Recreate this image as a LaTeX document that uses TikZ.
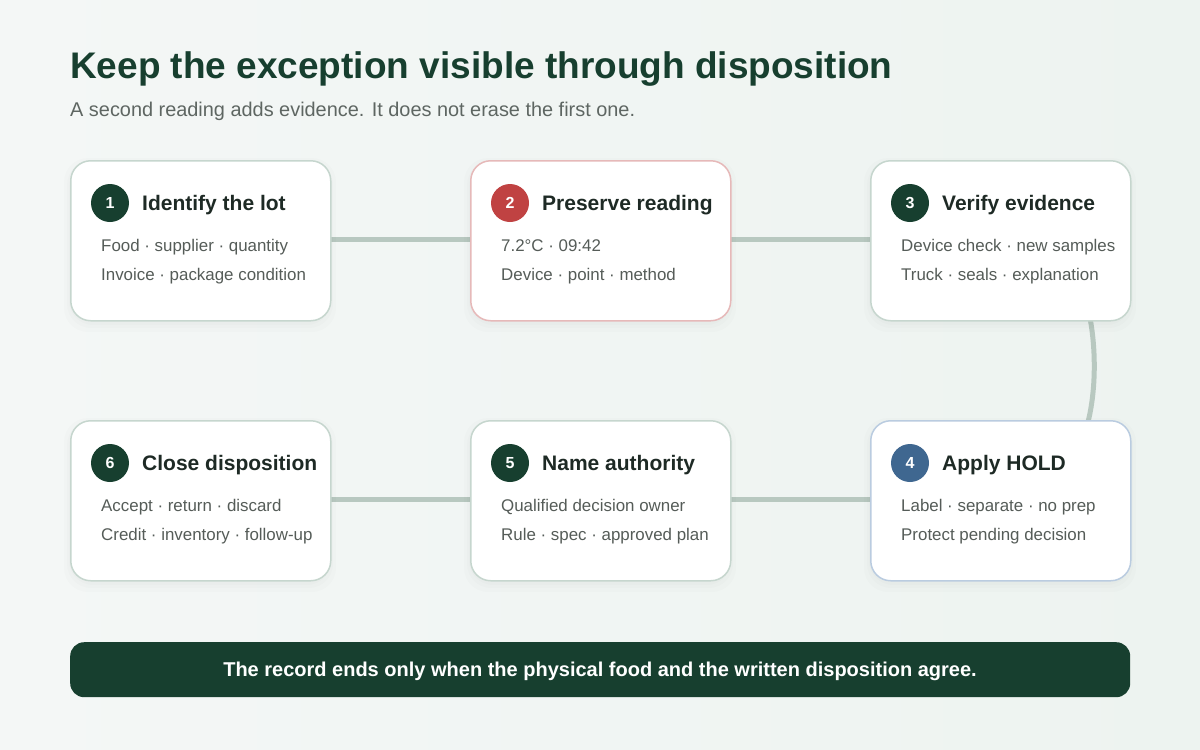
\documentclass[tikz,border=0pt]{standalone}
\usepackage{fontspec}
\setmainfont{Liberation Sans}
\definecolor{dkgreen}{HTML}{173F2F}
\definecolor{redc}{HTML}{C04242}
\definecolor{bluec}{HTML}{3F6790}
\definecolor{bordg}{HTML}{C6D6CE}
\definecolor{bordr}{HTML}{E6B9B9}
\definecolor{bordb}{HTML}{BACCE0}
\definecolor{conn}{HTML}{B8C8C0}
\definecolor{bodyt}{HTML}{555C58}
\definecolor{headt}{HTML}{1E2A25}
\definecolor{subt}{HTML}{5E6662}
\definecolor{bgA}{HTML}{F4F7F6}
\definecolor{bgB}{HTML}{EDF3F0}
\tikzset{
  x=1pt,y=-1pt,
  card/.style={draw=bordg, line width=1.5pt, fill=white, rounded corners=20pt, minimum width=260pt, minimum height=160pt, inner sep=0pt},
  numdot/.style={circle, fill=dkgreen, minimum size=38pt, inner sep=0pt, text=white, font=\fontsize{16}{18}\selectfont\bfseries},
  cardtitle/.style={anchor=base west, inner sep=0pt, text=headt, font=\fontsize{21}{24}\selectfont\bfseries},
  cardbody/.style={anchor=base west, inner sep=0pt, text=bodyt, font=\fontsize{16.9}{19}\selectfont},
  link/.style={draw=conn, line width=5pt},
  softshadow/.style={fill=black, opacity=0.012, rounded corners=24pt},
}
\newcommand{\makecard}[8]{%
  % #1 name, #2 x left, #3 y top, #4 border colour, #5 dot colour, #6 number, #7 title, #8 body
  \fill[softshadow] (#2-6,#3-2) rectangle (#2+266,#3+172);
  \fill[softshadow] (#2-3,#3+1) rectangle (#2+263,#3+168);
  \fill[softshadow] (#2-1,#3+3) rectangle (#2+261,#3+165);
  \node[card, draw=#4, anchor=north west] (#1) at (#2,#3) {};
  \node[numdot, fill=#5] (#1n) at (#2+40,#3+43) {#6};
  \node[cardtitle] (#1t) at (#2+72,#3+50) {#7};
  #8
}
\begin{document}
\begin{tikzpicture}
\useasboundingbox (0,0) rectangle (1200,750);
\shade[left color=bgA, right color=bgB] (0,0) rectangle (1200,750);

\node[anchor=base west, inner sep=0pt, text=dkgreen, font=\fontsize{37}{40}\selectfont\bfseries] (title) at (70,78) {Keep the exception visible through disposition};
\node[anchor=base west, inner sep=0pt, text=subt, font=\fontsize{19.9}{22}\selectfont] (subtitle) at (70,116) {A second reading adds evidence. It does not erase the first one.};

% connectors (drawn first, behind cards)
\coordinate (c12a) at (330,239); \coordinate (c12b) at (470,239);
\coordinate (c23a) at (730,239); \coordinate (c23b) at (870,239);
\coordinate (c56a) at (330,499); \coordinate (c56b) at (470,499);
\coordinate (c45a) at (730,499); \coordinate (c45b) at (870,499);
\coordinate (c34a) at (1090,318); \coordinate (c34b) at (1088,422);
\draw[link] (c12a) -- (c12b);
\draw[link] (c23a) -- (c23b);
\draw[link] (c56a) -- (c56b);
\draw[link] (c45a) -- (c45b);
\draw[link] (c34a) .. controls (1096,350) and (1096,390) .. (c34b);

\makecard{s1}{70}{160}{bordg}{dkgreen}{1}{Identify the lot}{%
  \node[cardbody] (s1a) at (101,251) {Food · supplier · quantity};
  \node[cardbody] (s1b) at (101,280) {Invoice · package condition};}
\makecard{s2}{470}{160}{bordr}{redc}{2}{Preserve reading}{%
  \node[cardbody] (s2a) at (501,251) {7.2°C · 09:42};
  \node[cardbody] (s2b) at (501,280) {Device · point · method};}
\makecard{s3}{870}{160}{bordg}{dkgreen}{3}{Verify evidence}{%
  \node[cardbody] (s3a) at (901,251) {Device check · new samples};
  \node[cardbody] (s3b) at (901,280) {Truck · seals · explanation};}
\makecard{s4}{870}{420}{bordb}{bluec}{4}{Apply HOLD}{%
  \node[cardbody] (s4a) at (901,511) {Label · separate · no prep};
  \node[cardbody] (s4b) at (901,540) {Protect pending decision};}
\makecard{s5}{470}{420}{bordg}{dkgreen}{5}{Name authority}{%
  \node[cardbody] (s5a) at (501,511) {Qualified decision owner};
  \node[cardbody] (s5b) at (501,540) {Rule · spec · approved plan};}
\makecard{s6}{70}{420}{bordg}{dkgreen}{6}{Close disposition}{%
  \node[cardbody] (s6a) at (101,511) {Accept · return · discard};
  \node[cardbody] (s6b) at (101,540) {Credit · inventory · follow-up};}

\node[fill=dkgreen, rounded corners=14pt, minimum width=1060pt, minimum height=55pt, inner sep=0pt, anchor=north west] (footer) at (70,642) {};
\node[text=white, inner sep=0pt, font=\fontsize{20}{22}\selectfont\bfseries] (footert) at (600,671) {The record ends only when the physical food and the written disposition agree.};
\end{tikzpicture}
\end{document}
